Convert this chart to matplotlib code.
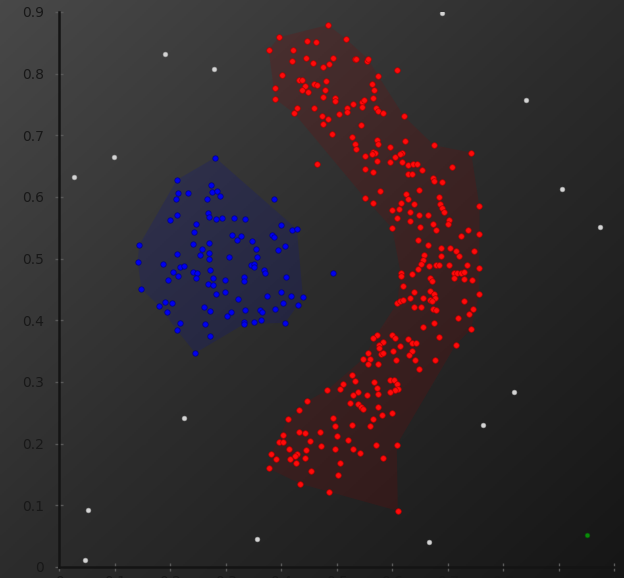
import numpy as np
import matplotlib
matplotlib.use('Agg')
import matplotlib.pyplot as plt
from matplotlib.colors import LinearSegmentedColormap
from matplotlib.patches import Polygon
from matplotlib.ticker import FuncFormatter, MultipleLocator

# 파란 군집 (x, y)
blue_x = [0.281, 0.212, 0.273, 0.214, 0.232, 0.275, 0.285, 0.290, 0.267, 0.210,
          0.387, 0.268, 0.270, 0.282, 0.294, 0.315, 0.335, 0.212, 0.199, 0.246,
          0.400, 0.420, 0.428, 0.243, 0.311, 0.327, 0.321, 0.383, 0.387, 0.348,
          0.144, 0.240, 0.269, 0.407, 0.394, 0.355, 0.257, 0.254, 0.212, 0.270,
          0.269, 0.356, 0.305, 0.141, 0.186, 0.217, 0.225, 0.345, 0.351, 0.351,
          0.271, 0.369, 0.371, 0.204, 0.214, 0.241, 0.248, 0.246, 0.332, 0.333,
          0.409, 0.195, 0.277, 0.299, 0.148, 0.268, 0.277, 0.399, 0.282, 0.299,
          0.374, 0.417, 0.439, 0.322, 0.191, 0.203, 0.179, 0.403, 0.430, 0.261,
          0.194, 0.271, 0.335, 0.361, 0.365, 0.310, 0.302, 0.389, 0.218, 0.262,
          0.333, 0.332, 0.350, 0.363, 0.407, 0.212, 0.271, 0.245, 0.494]
blue_y = [0.664, 0.628, 0.619, 0.606, 0.606, 0.608, 0.610, 0.601, 0.597, 0.597,
          0.596, 0.574, 0.567, 0.565, 0.566, 0.566, 0.564, 0.571, 0.563, 0.557,
          0.554, 0.546, 0.548, 0.543, 0.539, 0.537, 0.530, 0.539, 0.535, 0.528,
          0.522, 0.523, 0.525, 0.520, 0.514, 0.516, 0.515, 0.506, 0.508, 0.509,
          0.499, 0.503, 0.502, 0.495, 0.491, 0.486, 0.488, 0.489, 0.491, 0.486,
          0.482, 0.481, 0.476, 0.478, 0.472, 0.478, 0.476, 0.469, 0.471, 0.463,
          0.470, 0.465, 0.468, 0.466, 0.451, 0.459, 0.457, 0.446, 0.442, 0.446,
          0.439, 0.439, 0.438, 0.435, 0.429, 0.428, 0.424, 0.428, 0.425, 0.422,
          0.413, 0.415, 0.417, 0.417, 0.413, 0.414, 0.407, 0.418, 0.396, 0.394,
          0.397, 0.394, 0.398, 0.400, 0.396, 0.384, 0.375, 0.347, 0.477]

# 파란 군집 외곽선
blue_hull_x = [0.281, 0.428, 0.439, 0.430, 0.407, 0.333, 0.245, 0.212, 0.179, 0.148, 0.141, 0.144, 0.212]
blue_hull_y = [0.664, 0.548, 0.438, 0.425, 0.396, 0.394, 0.347, 0.384, 0.424, 0.451, 0.495, 0.522, 0.628]

# 빨간 군집 (x, y)
red_x = [0.484, 0.396, 0.446, 0.462, 0.517, 0.377, 0.421, 0.419, 0.445, 0.458,
         0.475, 0.486, 0.494, 0.532, 0.535, 0.554, 0.556, 0.402, 0.432, 0.437,
         0.481, 0.575, 0.608, 0.389, 0.443, 0.459, 0.464, 0.438, 0.449, 0.479,
         0.564, 0.567, 0.389, 0.476, 0.497, 0.497, 0.566, 0.429, 0.423, 0.459,
         0.519, 0.529, 0.518, 0.504, 0.545, 0.549, 0.546, 0.571, 0.575, 0.583,
         0.473, 0.484, 0.475, 0.621, 0.544, 0.492, 0.528, 0.572, 0.575, 0.622,
         0.675, 0.742, 0.533, 0.535, 0.596, 0.566, 0.569, 0.564, 0.551, 0.573,
         0.604, 0.595, 0.617, 0.613, 0.465, 0.618, 0.629, 0.637, 0.644, 0.629,
         0.635, 0.551, 0.565, 0.654, 0.707, 0.673, 0.676, 0.690, 0.578, 0.649,
         0.625, 0.629, 0.685, 0.550, 0.565, 0.616, 0.639, 0.686, 0.689, 0.693,
         0.757, 0.600, 0.612, 0.608, 0.631, 0.648, 0.664, 0.631, 0.702, 0.700,
         0.674, 0.600, 0.650, 0.678, 0.737, 0.724, 0.757, 0.647, 0.665,
         0.748, 0.687, 0.704, 0.714, 0.658, 0.688, 0.721, 0.655, 0.652, 0.647,
         0.667, 0.678, 0.685, 0.702, 0.734, 0.756, 0.615, 0.615, 0.635, 0.668,
         0.671, 0.711, 0.716, 0.723, 0.729, 0.711, 0.730, 0.743, 0.619, 0.639,
         0.668, 0.756, 0.655, 0.631, 0.676, 0.677, 0.668, 0.672, 0.609, 0.613,
         0.619, 0.639, 0.651, 0.673, 0.678, 0.729, 0.745, 0.739, 0.719, 0.676,
         0.656, 0.742, 0.685, 0.714, 0.572, 0.565, 0.599, 0.604, 0.628, 0.636,
         0.643, 0.584, 0.576, 0.576, 0.613, 0.557, 0.579, 0.583, 0.602, 0.635,
         0.630, 0.548, 0.559, 0.606, 0.640, 0.677, 0.557, 0.575, 0.649, 0.528,
         0.532, 0.567, 0.596, 0.603, 0.608, 0.573, 0.610, 0.604, 0.595, 0.575,
         0.538, 0.530, 0.554, 0.511, 0.506, 0.483, 0.523, 0.538, 0.543, 0.548,
         0.574, 0.599, 0.581, 0.565, 0.447, 0.432, 0.412, 0.494, 0.496, 0.528,
         0.560, 0.403, 0.432, 0.443, 0.470, 0.501, 0.396, 0.403, 0.452, 0.520,
         0.413, 0.472, 0.496, 0.530, 0.541, 0.571, 0.608, 0.444, 0.382, 0.428,
         0.424, 0.390, 0.415, 0.442, 0.426, 0.505, 0.583, 0.377, 0.453, 0.502,
         0.434, 0.486, 0.610]
red_y = [0.879, 0.859, 0.853, 0.852, 0.856, 0.839, 0.838, 0.821, 0.825, 0.818,
         0.810, 0.815, 0.826, 0.823, 0.824, 0.821, 0.824, 0.798, 0.790, 0.789,
         0.788, 0.796, 0.806, 0.776, 0.780, 0.783, 0.782, 0.773, 0.771, 0.773,
         0.783, 0.773, 0.759, 0.762, 0.761, 0.756, 0.760, 0.744, 0.736, 0.744,
         0.745, 0.751, 0.738, 0.735, 0.754, 0.758, 0.746, 0.744, 0.740, 0.737,
         0.731, 0.726, 0.719, 0.731, 0.716, 0.702, 0.698, 0.692, 0.686, 0.691,
         0.684, 0.672, 0.686, 0.678, 0.681, 0.673, 0.671, 0.670, 0.666, 0.658,
         0.665, 0.656, 0.672, 0.670, 0.654, 0.656, 0.652, 0.653, 0.654, 0.638,
         0.638, 0.645, 0.641, 0.644, 0.649, 0.630, 0.626, 0.624, 0.610, 0.611,
         0.605, 0.597, 0.600, 0.599, 0.590, 0.591, 0.589, 0.588, 0.582, 0.576,
         0.585, 0.579, 0.580, 0.566, 0.575, 0.571, 0.571, 0.561, 0.563, 0.556,
         0.556, 0.549, 0.551, 0.546, 0.546, 0.537, 0.540, 0.530, 0.522,
         0.512, 0.517, 0.517, 0.513, 0.506, 0.505, 0.504, 0.498, 0.492, 0.483,
         0.488, 0.489, 0.490, 0.489, 0.490, 0.485, 0.476, 0.472, 0.475, 0.468,
         0.464, 0.476, 0.476, 0.477, 0.478, 0.469, 0.467, 0.466, 0.455, 0.446,
         0.448, 0.442, 0.437, 0.436, 0.442, 0.437, 0.433, 0.432, 0.428, 0.431,
         0.433, 0.422, 0.422, 0.419, 0.416, 0.431, 0.418, 0.411, 0.403, 0.396,
         0.389, 0.386, 0.373, 0.360, 0.377, 0.372, 0.376, 0.371, 0.369, 0.363,
         0.363, 0.365, 0.360, 0.355, 0.359, 0.347, 0.345, 0.347, 0.350, 0.351,
         0.343, 0.338, 0.338, 0.336, 0.336, 0.335, 0.329, 0.329, 0.321, 0.311,
         0.302, 0.300, 0.304, 0.303, 0.296, 0.291, 0.289, 0.287, 0.283, 0.281,
         0.283, 0.279, 0.279, 0.296, 0.288, 0.287, 0.266, 0.264, 0.260, 0.256,
         0.259, 0.250, 0.246, 0.240, 0.269, 0.254, 0.240, 0.241, 0.228, 0.231,
         0.228, 0.214, 0.219, 0.217, 0.219, 0.212, 0.203, 0.202, 0.205, 0.206,
         0.192, 0.197, 0.192, 0.191, 0.185, 0.198, 0.198, 0.189, 0.183, 0.183,
         0.180, 0.175, 0.175, 0.177, 0.168, 0.168, 0.176, 0.160, 0.156, 0.149,
         0.135, 0.122, 0.091]

# 빨간 군집 외곽선 (오목)
red_hull_x = [0.484, 0.517, 0.556, 0.575, 0.621, 0.675, 0.742, 0.757, 0.757, 0.756,
              0.756, 0.742, 0.714, 0.608, 0.610, 0.486, 0.434, 0.377, 0.382, 0.412,
              0.432, 0.447, 0.483, 0.548, 0.572, 0.609, 0.615, 0.600, 0.550, 0.423,
              0.389, 0.377, 0.396]
red_hull_y = [0.879, 0.856, 0.824, 0.796, 0.731, 0.684, 0.672, 0.585, 0.540, 0.485,
              0.442, 0.386, 0.360, 0.198, 0.091, 0.122, 0.135, 0.160, 0.183, 0.240,
              0.254, 0.269, 0.287, 0.338, 0.377, 0.428, 0.476, 0.549, 0.599, 0.736,
              0.759, 0.839, 0.859]

# 잡음 점
noise_x = [0.026, 0.190, 0.279, 0.099, 0.690, 0.840, 0.905, 0.974, 0.225, 0.052,
           0.046, 0.357, 0.763, 0.667, 0.820]
noise_y = [0.632, 0.832, 0.807, 0.665, 0.898, 0.758, 0.613, 0.551, 0.242, 0.092,
           0.011, 0.045, 0.231, 0.040, 0.284]

# 초록 점 하나
green_x = [0.950]
green_y = [0.052]

fig = plt.figure(figsize=(6.24, 5.78), dpi=100)

# 배경 그라데이션
bg = fig.add_axes([0, 0, 1, 1], zorder=-1)
gx, gy = np.meshgrid(np.linspace(0, 1, 300), np.linspace(0, 1, 300))
grad = (gx + gy) / 2
cmap_bg = LinearSegmentedColormap.from_list('bg', ['#484848', '#2c2c2c', '#161616'])
bg.imshow(grad, cmap=cmap_bg, aspect='auto', extent=[0, 1, 0, 1], origin='upper')
bg.axis('off')

ax = fig.add_axes([59.3 / 624, 11 / 578, 555 / 624, 555 / 578])
ax.set_facecolor('none')

ax.add_patch(Polygon(np.column_stack([blue_hull_x, blue_hull_y]), closed=True,
                     facecolor=(0.05, 0.08, 0.55, 0.22), edgecolor='none', zorder=1))
ax.add_patch(Polygon(np.column_stack([red_hull_x, red_hull_y]), closed=True,
                     facecolor=(0.5, 0.02, 0.02, 0.2), edgecolor='none', zorder=1))

ax.scatter(noise_x, noise_y, s=12, c='#d4d4d4', edgecolors='#9a9a9a', linewidths=0.4, zorder=3)
ax.scatter(blue_x, blue_y, s=15, c='#0000f0', edgecolors='#00008a', linewidths=0.5, zorder=3)
ax.scatter(red_x, red_y, s=16, c='#ff0a0a', edgecolors='#b00000', linewidths=0.5, zorder=3)
ax.scatter(green_x, green_y, s=12, c='#0a8a0a', edgecolors='#055505', linewidths=0.4, zorder=3)

ax.set_xlim(0, 1)
ax.set_ylim(0, 0.9)
ax.xaxis.set_major_locator(MultipleLocator(0.1))
ax.yaxis.set_major_locator(MultipleLocator(0.1))
fmt = FuncFormatter(lambda v, p: '{:g}'.format(round(v, 2)))
ax.xaxis.set_major_formatter(fmt)
ax.yaxis.set_major_formatter(fmt)

for side in ['top', 'right']:
    ax.spines[side].set_visible(False)
for side in ['left', 'bottom']:
    ax.spines[side].set_color('#141414')
    ax.spines[side].set_linewidth(1.8)

ax.tick_params(direction='inout', length=6, width=1, color='#5a5a5a',
               labelcolor='#181818', labelsize=10)
ax.tick_params(axis='y', pad=8)
ax.tick_params(axis='x', pad=3)

fig.savefig('out.png', dpi=100)
